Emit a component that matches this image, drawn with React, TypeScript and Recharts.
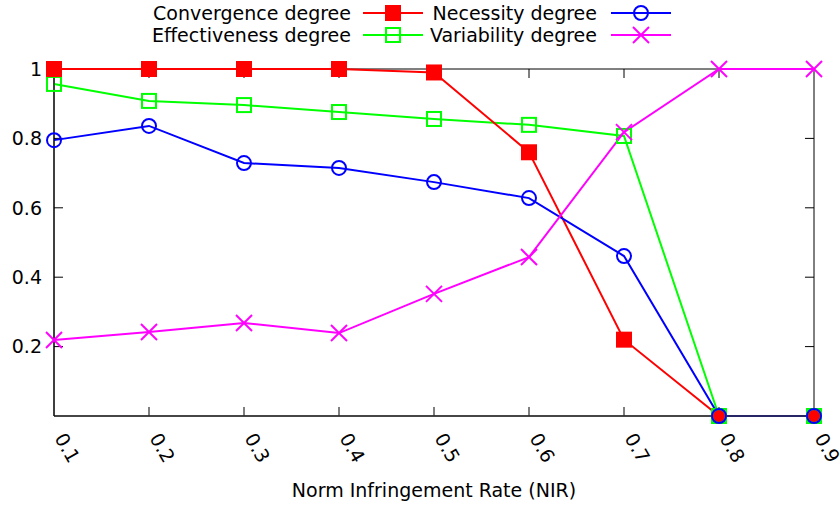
import { LineChart, Line, XAxis, YAxis, ReferenceLine, ReferenceArea, Label } from 'recharts';

const nir = [0.1, 0.2, 0.3, 0.4, 0.5, 0.6, 0.7, 0.8, 0.9];
const convergence = [1, 1, 1, 1, 0.99, 0.76, 0.22, 0, 0];
const necessity = [0.795, 0.836, 0.729, 0.715, 0.674, 0.628, 0.461, 0, 0];
const effectiveness = [0.957, 0.908, 0.896, 0.876, 0.856, 0.839, 0.807, 0, 0];
const variability = [0.219, 0.242, 0.268, 0.239, 0.352, 0.458, 0.818, 1, 1];

const xTicks = [0.1, 0.2, 0.3, 0.4, 0.5, 0.6, 0.7, 0.8, 0.9];
const yTicks = [0.2, 0.4, 0.6, 0.8, 1];
const innerXTicks = [0.2, 0.3, 0.4, 0.5, 0.6, 0.7, 0.8];
const innerYTicks = [0.2, 0.4, 0.6, 0.8];

const FONT = '"DejaVu Sans", sans-serif';

type Marker = 'fsquare' | 'square' | 'circle' | 'cross';

// gnuplot key goes row by row: Convergence, Necessity / Effectiveness, Variability
const series = [
  { key: 'convergence', name: 'Convergence degree', color: '#ff0000', marker: 'fsquare' as Marker, data: convergence },
  { key: 'necessity', name: 'Necessity degree', color: '#0000ff', marker: 'circle' as Marker, data: necessity },
  { key: 'effectiveness', name: 'Effectiveness degree', color: '#00ff00', marker: 'square' as Marker, data: effectiveness },
  { key: 'variability', name: 'Variability degree', color: '#ff00ff', marker: 'cross' as Marker, data: variability },
];

// drawing order, last one on top
const drawOrder = ['effectiveness', 'convergence', 'necessity', 'variability'];

const rows = nir.map((x, i) => {
  const row: any = { nir: x };
  series.forEach((s) => {
    row[s.key] = s.data[i];
  });
  return row;
});

const drawMarker = (kind: Marker, cx: number, cy: number, color: string, atZero = false, key?: string) => {
  if (kind === 'fsquare') {
    if (atZero) return <circle key={key} cx={cx} cy={cy} r={6} fill={color} />;
    return <rect key={key} x={cx - 8} y={cy - 8} width={16} height={16} fill={color} />;
  }
  if (kind === 'square') {
    return (
      <rect
        key={key}
        x={cx - 7}
        y={cy - 7}
        width={14}
        height={14}
        fill={atZero ? color : 'none'}
        stroke={color}
        strokeWidth={2}
      />
    );
  }
  if (kind === 'circle') {
    return <circle key={key} cx={cx} cy={cy} r={7} fill="none" stroke={color} strokeWidth={2} />;
  }
  return (
    <g key={key} stroke={color} strokeWidth={2}>
      <line x1={cx - 8} y1={cy - 8} x2={cx + 8} y2={cy + 8} />
      <line x1={cx - 8} y1={cy + 8} x2={cx + 8} y2={cy - 8} />
    </g>
  );
};

const XTick = ({ x, y, payload }: any) => (
  <text
    x={x}
    y={y}
    transform={`rotate(60 ${x} ${y})`}
    textAnchor="start"
    fontSize={19}
    fontFamily={FONT}
    fill="#000"
  >
    {payload.value}
  </text>
);

const legendCols = [
  { textEnd: 351, lineStart: 363, lineEnd: 423 },
  { textEnd: 597, lineStart: 611, lineEnd: 671 },
];
const legendRows = [13, 35];

const KeyBox = () => (
  <svg width={840} height={60} style={{ position: 'absolute', left: 0, top: 0, pointerEvents: 'none' }}>
    {series.map((s, i) => {
      const col = legendCols[i % 2];
      const y = legendRows[Math.floor(i / 2)];
      const mid = (col.lineStart + col.lineEnd) / 2;
      return (
        <g key={s.key}>
          <text x={col.textEnd} y={y} dy="0.35em" textAnchor="end" fontSize={19} fontFamily={FONT} fill="#000">
            {s.name}
          </text>
          <line x1={col.lineStart} y1={y} x2={col.lineEnd} y2={y} stroke={s.color} strokeWidth={2} />
          {drawMarker(s.marker, mid, y, s.color)}
        </g>
      );
    })}
  </svg>
);

export default function App() {
  return (
    <div style={{ position: 'absolute', left: 0, top: 0, width: 840, height: 506, background: '#fff', fontFamily: FONT }}>
      <LineChart width={840} height={506} data={rows} margin={{ top: 69, right: 26, left: 0, bottom: 0 }}>
        <XAxis
          dataKey="nir"
          type="number"
          domain={[0.1, 0.9]}
          ticks={xTicks}
          tick={<XTick />}
          tickLine={false}
          tickSize={0}
          tickMargin={22}
          height={90}
          axisLine={{ stroke: '#333', strokeWidth: 1.5 }}
          interval={0}
        >
          <Label
            value="Norm Infringement Rate (NIR)"
            position="insideBottom"
            offset={9}
            style={{ fontSize: 19, fontFamily: FONT, fill: '#000' }}
          />
        </XAxis>
        <YAxis
          type="number"
          domain={[0, 1]}
          ticks={yTicks}
          width={54}
          tickLine={false}
          tickSize={0}
          tickMargin={12}
          axisLine={{ stroke: '#000' }}
          tick={{ fontSize: 19, fontFamily: FONT, fill: '#000' }}
          interval={0}
        />
        <ReferenceArea x1={0.1} x2={0.9} y1={0} y2={1} fill="none" stroke="#000" strokeWidth={1} />
        {innerXTicks.map((t) => (
          <ReferenceLine key={`xb-${t}`} segment={[{ x: t, y: 0 }, { x: t, y: 0.026 }]} stroke="#000" />
        ))}
        {innerXTicks.map((t) => (
          <ReferenceLine key={`xt-${t}`} segment={[{ x: t, y: 1 }, { x: t, y: 0.974 }]} stroke="#000" />
        ))}
        {innerYTicks.map((t) => (
          <ReferenceLine key={`yl-${t}`} segment={[{ x: 0.1, y: t }, { x: 0.1095, y: t }]} stroke="#000" />
        ))}
        {innerYTicks.map((t) => (
          <ReferenceLine key={`yr-${t}`} segment={[{ x: 0.9, y: t }, { x: 0.8905, y: t }]} stroke="#000" />
        ))}
        {drawOrder.map((k) => {
          const s = series.find((d) => d.key === k)!;
          return (
            <Line
              key={s.key}
              type="linear"
              dataKey={s.key}
              name={s.name}
              stroke={s.color}
              strokeWidth={2}
              isAnimationActive={false}
              dot={(p: any) => drawMarker(s.marker, p.cx, p.cy, s.color, p.value === 0, `${s.key}-${p.index}`)}
              activeDot={false}
            />
          );
        })}
      </LineChart>
      <KeyBox />
    </div>
  );
}
